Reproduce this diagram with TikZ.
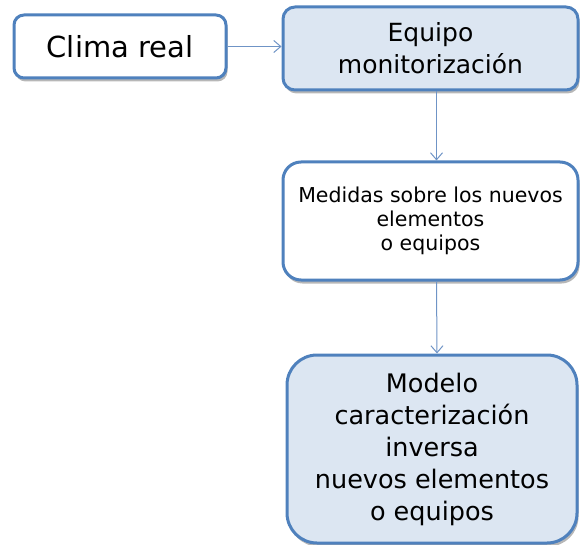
\documentclass[tikz,border=0pt]{standalone}
\usepackage{fontspec}
\setmainfont{DejaVu Sans}
\usetikzlibrary{arrows.meta,shadows}
\definecolor{bordeblue}{HTML}{4F81BD}
\definecolor{fillblue}{HTML}{DCE6F2}
\definecolor{arrowblue}{HTML}{6F94C6}
\tikzset{
  box/.style={draw=bordeblue, line width=3pt, align=center, inner sep=0pt,
    drop shadow={shadow xshift=1.5pt, shadow yshift=-3.5pt, opacity=0.4, fill=black!70}},
  whitebox/.style={box, fill=white},
  bluebox/.style={box, fill=fillblue},
  conn/.style={draw=arrowblue, line width=1pt, -{Straight Barb[length=7pt,width=12pt]}}
}
\begin{document}
\begin{tikzpicture}[x=1pt,y=-1pt]
\useasboundingbox (0,0) rectangle (580,545);
\clip (0,0) rectangle (580,545);
\node[whitebox, rounded corners=10pt, minimum width=212pt, minimum height=63pt,
  font=\fontsize{29}{34}\selectfont] (clima) at (120,46.5) {Clima real};
\node[bluebox, rounded corners=12pt, minimum width=295pt, minimum height=83pt,
  font=\fontsize{25}{32}\selectfont] (equipo) at (430.5,48.5) {Equipo\\monitorización};
\node[whitebox, rounded corners=18pt, minimum width=295pt, minimum height=118pt,
  font=\fontsize{20.5}{24}\selectfont] (medidas) at (430.5,221) {Medidas sobre los nuevos\\elementos\\o equipos};
\node[bluebox, rounded corners=30pt, minimum width=290pt, minimum height=188pt,
  font=\fontsize{25.5}{32}\selectfont] (modelo) at (432,449) {Modelo\\caracterización\\inversa\\nuevos elementos\\o equipos};
\draw[conn] (clima.east) -- (clima.east -| equipo.west);
\draw[conn] ([xshift=6pt]equipo.south) -- ([xshift=6pt]medidas.north);
\draw[conn] ([xshift=6pt]medidas.south) -- ([xshift=5pt]modelo.north);
\end{tikzpicture}
\end{document}
